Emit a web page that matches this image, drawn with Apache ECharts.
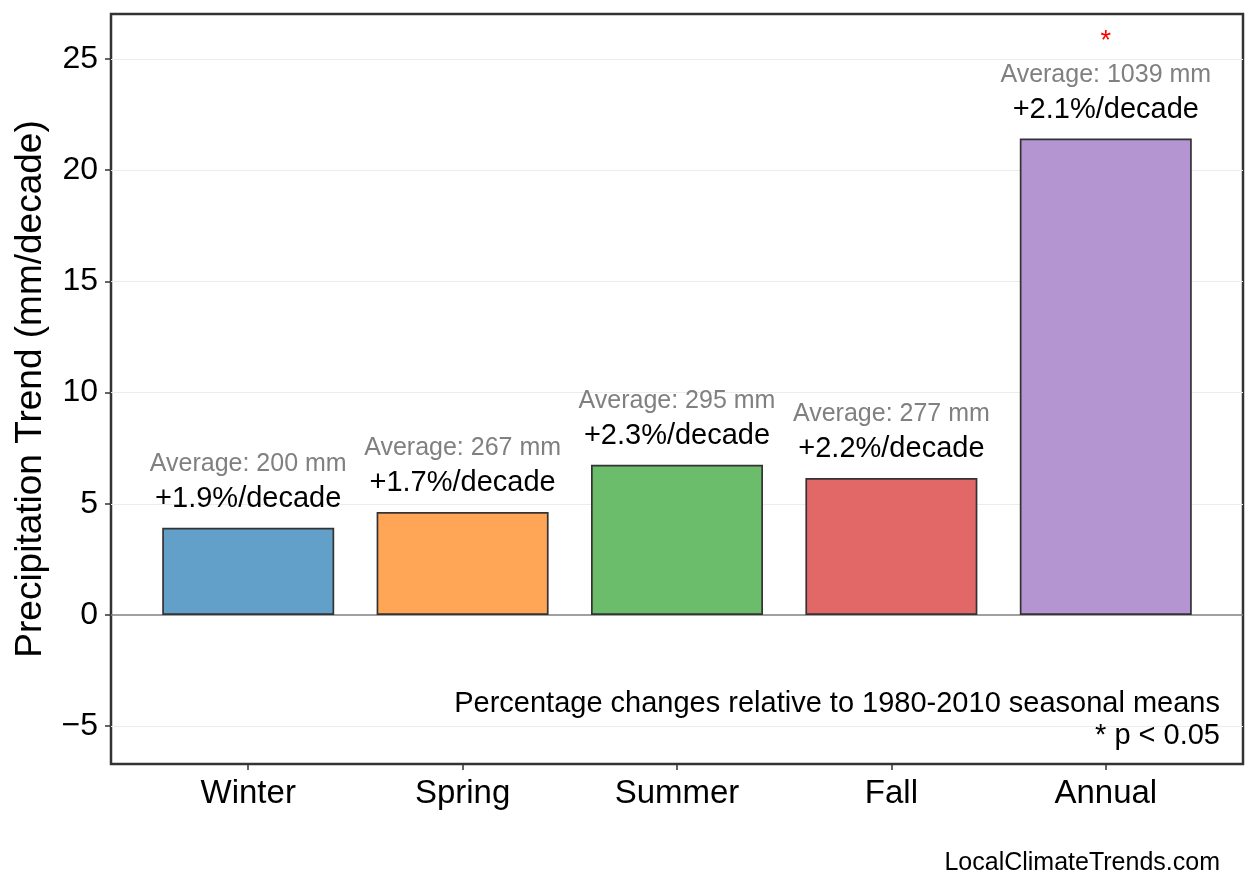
<!DOCTYPE html>
<html>
<head>
<meta charset="utf-8">
<script src="https://cdn.jsdelivr.net/npm/echarts@6/dist/echarts.min.js"></script>
<style>
  html, body { margin: 0; padding: 0; background: #fff; }
  #chart { width: 1258px; height: 893px; }
</style>
</head>
<body>
<div id="chart"></div>
<script>
// seasons and values
var seasons = ['Winter', 'Spring', 'Summer', 'Fall', 'Annual'];
var trends = [3.92, 4.63, 6.75, 6.16, 21.42];
var pctLabels = ['+1.9%/decade', '+1.7%/decade', '+2.3%/decade', '+2.2%/decade', '+2.1%/decade'];
var averages = [200, 267, 295, 277, 1039];
var significant = [false, false, false, false, true];
var barColors = ['#62a0ca', '#ffa556', '#6bbc6b', '#e26868', '#b495d1'];
var yTicks = [-5, 0, 5, 10, 15, 20, 25];

var FONT = '"Liberation Sans", Arial, Helvetica, sans-serif';

var myChart = echarts.init(document.getElementById('chart'));

var barData = trends.map(function (v, i) {
    return {
        value: [i, v],
        itemStyle: { color: barColors[i] }
    };
});

option = {
    backgroundColor: '#fff',
    animation: false,
    textStyle: { fontFamily: FONT },
    grid: {
        left: 111,
        right: 15,
        top: 14,
        bottom: 129,
        containLabel: false,
        outerBoundsMode: 'none',
        show: true,
        borderColor: '#333',
        borderWidth: 2.5,
        backgroundColor: 'transparent'
    },
    xAxis: {
        type: 'value',
        min: -0.64,
        max: 4.64,
        axisLine: { show: false, onZero: false },
        splitLine: { show: false },
        axisTick: {
            show: true,
            customValues: [0, 1, 2, 3, 4],
            length: 6,
            lineStyle: { color: '#333', width: 1.5 }
        },
        axisLabel: {
            customValues: [0, 1, 2, 3, 4],
            formatter: function (v) { return seasons[Math.round(v)]; },
            color: '#000',
            fontSize: 33,
            fontFamily: FONT,
            margin: 13
        }
    },
    yAxis: {
        type: 'value',
        min: -6.7,
        max: 27.02,
        name: 'Precipitation Trend (mm/decade)',
        nameLocation: 'middle',
        nameGap: 62,
        nameTextStyle: { fontSize: 37, color: '#000', fontFamily: FONT },
        axisLine: { show: false, onZero: false },
        axisTick: {
            show: true,
            customValues: yTicks,
            length: 6,
            lineStyle: { color: '#333', width: 1.5 }
        },
        axisLabel: {
            customValues: yTicks,
            formatter: function (v) { return String(v).replace('-', '\u2212'); },
            color: '#000',
            fontSize: 32,
            fontFamily: FONT,
            margin: 13
        },
        splitLine: { show: false }
    },
    series: [
        {
            type: 'bar',
            data: barData,
            barWidth: 172,
            itemStyle: { borderColor: '#333', borderWidth: 1.7 },
            label: {
                show: true,
                position: 'top',
                distance: 12,
                formatter: function (p) {
                    var i = p.dataIndex;
                    var s = '{avg|Average: ' + averages[i] + ' mm}\n{pct|' + pctLabels[i] + '}';
                    if (significant[i]) s = '{star|*}\n' + s;
                    return s;
                },
                rich: {
                    star: { color: '#ff0000', fontSize: 27, lineHeight: 32, fontFamily: FONT, align: 'center' },
                    avg: { color: '#808080', fontSize: 25, lineHeight: 35, fontFamily: FONT, align: 'center' },
                    pct: { color: '#000', fontSize: 29, lineHeight: 34, fontFamily: FONT, align: 'center' }
                }
            },
            markLine: {
                silent: true,
                symbol: 'none',
                z: 2,
                label: { show: false },
                lineStyle: { color: '#808080', width: 1.5, type: 'solid' },
                data: [{ yAxis: 0 }]
            },
            z: 3
        },
        {
            // faint horizontal grid lines at the y ticks
            type: 'line',
            data: [],
            z: 1,
            markLine: {
                silent: true,
                symbol: 'none',
                z: 1,
                label: { show: false },
                lineStyle: { color: '#ececec', width: 1, type: 'solid' },
                data: yTicks.filter(function (t) { return t !== 0; }).map(function (t) { return { yAxis: t }; })
            }
        }
    ],
    graphic: [
        {
            type: 'text',
            right: 38,
            top: 688,
            z: 20,
            style: {
                text: 'Percentage changes relative to 1980-2010 seasonal means\n* p < 0.05',
                fill: '#000',
                font: '29px ' + FONT,
                textAlign: 'right',
                lineHeight: 32
            }
        },
        {
            type: 'text',
            right: 38,
            top: 851,
            z: 20,
            style: {
                text: 'LocalClimateTrends.com',
                fill: '#000',
                font: '25px ' + FONT
            }
        }
    ]
};

myChart.setOption(option);
</script>
</body>
</html>
